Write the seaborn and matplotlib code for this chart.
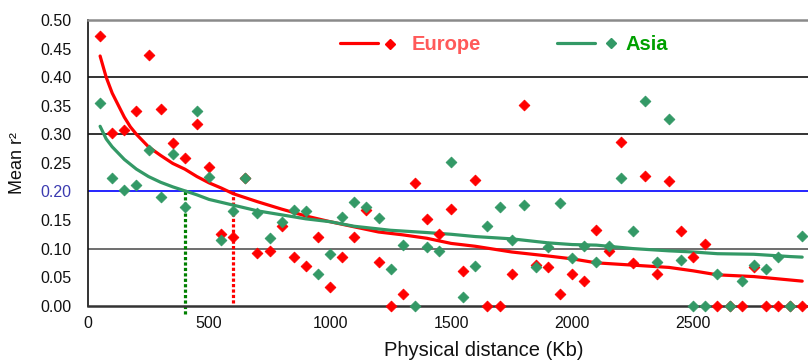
import matplotlib
matplotlib.use("Agg")
import matplotlib.pyplot as plt
import seaborn as sns

# -------------------------
# Data
# -------------------------
distance_kb = [
    50, 100, 150, 200, 250, 300, 350, 400, 450, 500,
    550, 600, 650, 700, 750, 800, 850, 900, 950, 1000,
    1050, 1100, 1150, 1200, 1250, 1300, 1350, 1400, 1450, 1500,
    1550, 1600, 1650, 1700, 1750, 1800, 1850, 1900, 1950, 2000,
    2050, 2100, 2150, 2200, 2250, 2300, 2350, 2400, 2450, 2500,
    2550, 2600, 2650, 2700, 2750, 2800, 2850, 2900, 2950,
]
europe_r2 = [
    0.472, 0.302, 0.307, 0.340, 0.438, 0.345, 0.285, 0.258, 0.318, 0.242,
    0.125, 0.121, 0.224, 0.093, 0.096, 0.140, 0.086, 0.070, 0.121, 0.033,
    0.085, 0.121, 0.167, 0.076, 0.000, 0.020, 0.215, 0.151, 0.125, 0.170,
    0.061, 0.220, 0.000, 0.000, 0.055, 0.352, 0.071, 0.068, 0.020, 0.055,
    0.043, 0.132, 0.096, 0.287, 0.074, 0.227, 0.055, 0.218, 0.131, 0.085,
    0.108, 0.000, 0.000, 0.000, 0.067, 0.000, 0.000, 0.000, 0.000,
]
asia_r2 = [
    0.355, 0.223, 0.202, 0.212, 0.272, 0.190, 0.265, 0.173, 0.340, 0.225,
    0.115, 0.166, 0.224, 0.163, 0.119, 0.146, 0.168, 0.166, 0.055, 0.090,
    0.156, 0.181, 0.173, 0.153, 0.065, 0.107, 0.000, 0.102, 0.095, 0.251,
    0.015, 0.070, 0.140, 0.172, 0.115, 0.177, 0.068, 0.102, 0.180, 0.083,
    0.105, 0.077, 0.105, 0.223, 0.131, 0.358, 0.076, 0.327, 0.080, 0.000,
    0.000, 0.055, 0.000, 0.044, 0.072, 0.065, 0.085, 0.000, 0.122,
]

# fitted decay curves (read at a few distances)
europe_fit_x = [50, 75, 100, 125, 150, 175, 200, 250, 300, 350, 400, 450, 500,
                550, 600, 700, 800, 900, 1000, 1100, 1200, 1300, 1400, 1500,
                1600, 1750, 1900, 2000, 2100, 2250, 2400, 2500, 2600, 2750,
                2900, 2950]
europe_fit = [0.437, 0.400, 0.372, 0.351, 0.330, 0.313, 0.300, 0.278, 0.263,
              0.249, 0.239, 0.226, 0.215, 0.206, 0.196, 0.182, 0.169, 0.157,
              0.147, 0.138, 0.129, 0.124, 0.118, 0.109, 0.104, 0.094, 0.087,
              0.082, 0.075, 0.071, 0.067, 0.061, 0.054, 0.051, 0.045, 0.043]
asia_fit_x = [50, 75, 100, 150, 200, 250, 300, 350, 400, 450, 500, 600, 700,
              800, 900, 1000, 1100, 1250, 1400, 1500, 1600, 1750, 1900, 2000,
              2100, 2250, 2400, 2500, 2600, 2750, 2900, 2950]
asia_fit = [0.314, 0.292, 0.278, 0.256, 0.239, 0.226, 0.216, 0.208, 0.201,
            0.194, 0.186, 0.176, 0.166, 0.159, 0.152, 0.147, 0.139, 0.132,
            0.128, 0.125, 0.121, 0.117, 0.110, 0.107, 0.106, 0.100, 0.096,
            0.094, 0.091, 0.090, 0.086, 0.085]

# distances where each curve reaches r2 = 0.2
asia_cutoff_kb = 400
europe_cutoff_kb = 600
cutoff_r2 = 0.205

grid_levels = [0.1, 0.2, 0.3, 0.4]
grid_colors = ["#555555", "#0000ff", "#111111", "#111111"]

RED = "#ff0000"
GREEN = "#339966"

sns.set_style("white")
plt.rcParams["font.family"] = ["Liberation Sans", "DejaVu Sans"]

fig = plt.figure(figsize=(8.08, 3.61), dpi=100)
ax = fig.add_axes([88 / 808, 55.3 / 361, 720 / 808, 285.7 / 361])

for lvl, col in zip(grid_levels, grid_colors):
    ax.axhline(lvl, color=col, lw=1.2, zorder=1)

# dotted cut-off markers
ax.vlines(asia_cutoff_kb, -0.015, cutoff_r2, colors="#008000", lw=2.3,
          linestyles=[(0, (1, 0.7))], clip_on=False, zorder=2)
ax.vlines(europe_cutoff_kb, 0.004, cutoff_r2, colors=RED, lw=2.3,
          linestyles=[(0, (1, 0.7))], zorder=2)

sns.lineplot(x=europe_fit_x, y=europe_fit, color=RED, lw=2.3, ax=ax, zorder=3)
sns.lineplot(x=asia_fit_x, y=asia_fit, color=GREEN, lw=2.3, ax=ax, zorder=3)

sns.scatterplot(x=distance_kb, y=europe_r2, marker="D", s=30, color=RED,
                edgecolor=RED, linewidth=0.6, ax=ax, zorder=4, clip_on=False)
sns.scatterplot(x=distance_kb, y=asia_r2, marker="D", s=30, color=GREEN,
                edgecolor=GREEN, linewidth=0.6, ax=ax, zorder=5, clip_on=False)

ax.set_xlim(0, 2974)
ax.set_ylim(0, 0.5)

xt = list(range(0, 2901, 100))
ax.set_xticks(xt)
ax.set_xticklabels([str(v) if v % 500 == 0 else "" for v in xt])
yt = [i * 0.05 for i in range(11)]
ax.set_yticks(yt)
ax.set_yticklabels([f"{v:.2f}" for v in yt])

ax.tick_params(axis="both", direction="inout", length=6, width=1,
               color="#222222", labelsize=11.5, labelcolor="#111111")
ax.tick_params(axis="y", pad=9)
ax.tick_params(axis="x", pad=4.5)
for lab in ax.get_yticklabels():
    if lab.get_text() == "0.20":
        lab.set_color("#3b3bb0")

ax.spines["right"].set_visible(False)
ax.spines["top"].set_color("#8a8a8a")
ax.spines["top"].set_linewidth(1.8)
ax.spines["left"].set_color("#111111")
ax.spines["left"].set_linewidth(1.2)
ax.spines["bottom"].set_color("#333333")
ax.spines["bottom"].set_linewidth(1.8)

ax.set_xlabel("Physical distance (Kb)", fontsize=14.5, color="#111111")
ax.xaxis.set_label_coords(0.55, -0.124)
ax.xaxis.label.set_va("top")
ax.set_ylabel("Mean r²", fontsize=13, color="#111111")
ax.yaxis.set_label_coords(-0.086, 0.5)

# legend drawn like the original: line, diamond, coloured label
tr = ax.transAxes
ax.plot([0.350, 0.403], [0.918, 0.918], color=RED, lw=2.3, transform=tr, clip_on=False)
ax.plot([0.4194], [0.917], marker="D", ms=5.5, color=RED, transform=tr, clip_on=False)
ax.text(0.4496, 0.895, "Europe", color="#ff5a5a", fontsize=14.5, fontweight="bold",
        transform=tr, va="baseline", ha="left")
ax.plot([0.6514, 0.7042], [0.921, 0.921], color=GREEN, lw=2.3, transform=tr, clip_on=False)
ax.plot([0.726], [0.919], marker="D", ms=5.5, color=GREEN, transform=tr, clip_on=False)
ax.text(0.747, 0.895, "Asia", color="#00a000", fontsize=14.5, fontweight="bold",
        transform=tr, va="baseline", ha="left")

fig.savefig("out.png", dpi=100)
